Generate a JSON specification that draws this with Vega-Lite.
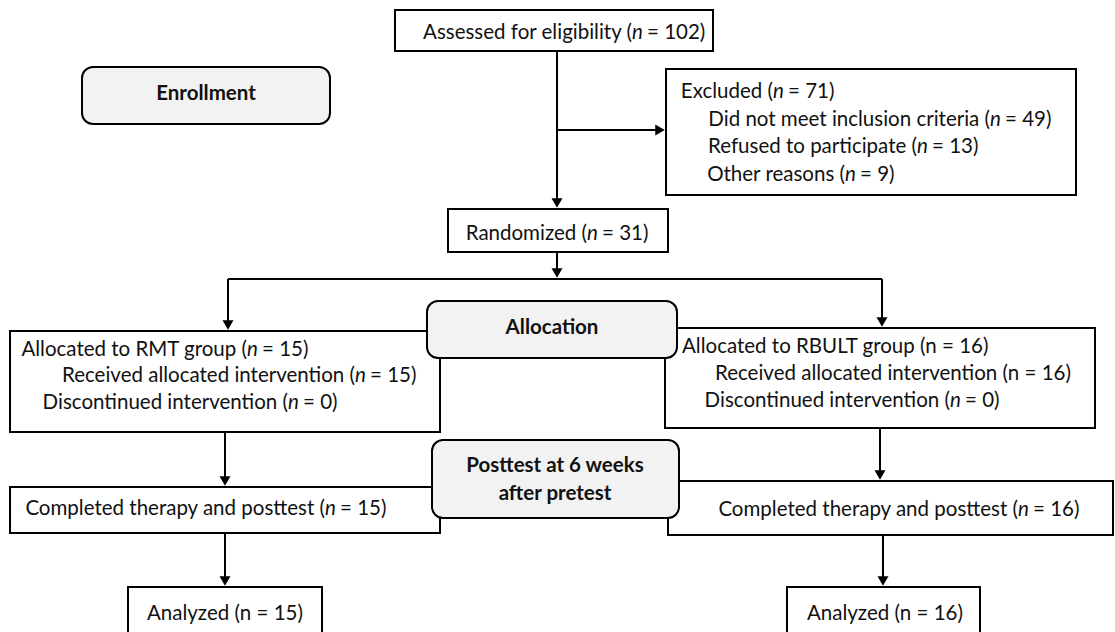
{
  "$schema": "https://vega.github.io/schema/vega-lite/v6.json",
  "width": 1115,
  "height": 632,
  "padding": 0,
  "autosize": "none",
  "background": "white",
  "config": {"view": {"stroke": null}},
  "datasets": {
    "boxes": [
      {"x": 395, "x2": 713, "y": 10, "y2": 51, "kind": "plain"},
      {"x": 666, "x2": 1076, "y": 69, "y2": 195, "kind": "plain"},
      {"x": 448, "x2": 668, "y": 209, "y2": 252, "kind": "plain"},
      {"x": 10, "x2": 440, "y": 331, "y2": 432, "kind": "plain"},
      {"x": 665, "x2": 1095, "y": 328, "y2": 428, "kind": "plain"},
      {"x": 10, "x2": 440, "y": 487, "y2": 533, "kind": "plain"},
      {"x": 668, "x2": 1113, "y": 481, "y2": 535, "kind": "plain"},
      {"x": 128, "x2": 322, "y": 587, "y2": 645, "kind": "plain"},
      {"x": 787, "x2": 980, "y": 587, "y2": 645, "kind": "plain"},
      {"x": 82, "x2": 330, "y": 67, "y2": 124, "kind": "round"},
      {"x": 427, "x2": 677, "y": 301, "y2": 358, "kind": "round"},
      {"x": 432, "x2": 679, "y": 440, "y2": 518, "kind": "round"}
    ],
    "lines": [
      {"x": 557, "y": 51, "x2": 557, "y2": 204},
      {"x": 557, "y": 130, "x2": 661, "y2": 130},
      {"x": 557, "y": 252, "x2": 557, "y2": 274},
      {"x": 228, "y": 279, "x2": 882, "y2": 279},
      {"x": 228, "y": 279, "x2": 228, "y2": 326},
      {"x": 882, "y": 279, "x2": 882, "y2": 323},
      {"x": 225, "y": 432, "x2": 225, "y2": 482},
      {"x": 880, "y": 428, "x2": 880, "y2": 476},
      {"x": 225, "y": 533, "x2": 225, "y2": 582},
      {"x": 883, "y": 535, "x2": 883, "y2": 582}
    ],
    "heads": [
      {"x": 557, "y": 203, "dir": "down"},
      {"x": 660, "y": 130, "dir": "right"},
      {"x": 557, "y": 273, "dir": "down"},
      {"x": 228, "y": 325, "dir": "down"},
      {"x": 882, "y": 322, "dir": "down"},
      {"x": 225, "y": 481, "dir": "down"},
      {"x": 880, "y": 475, "dir": "down"},
      {"x": 225, "y": 581, "dir": "down"},
      {"x": 883, "y": 581, "dir": "down"}
    ],
    "texts": [
      {"role": "head", "x": 206, "y": 100, "t": "Enrollment"},
      {"role": "pre", "x": 632, "y": 39, "t": "Assessed for eligibility ("},
      {"role": "ital", "x": 632, "y": 39, "t": "n"},
      {"role": "plain", "x": 647, "y": 39, "t": "\u00a0= 102)"},
      {"role": "pre", "x": 773, "y": 98, "t": "Excluded ("},
      {"role": "ital", "x": 773, "y": 98, "t": "n"},
      {"role": "plain", "x": 788, "y": 98, "t": "\u00a0= 71)"},
      {"role": "pre", "x": 990, "y": 126, "t": "Did not meet inclusion criteria ("},
      {"role": "ital", "x": 990, "y": 126, "t": "n"},
      {"role": "plain", "x": 1005, "y": 126, "t": "\u00a0= 49)"},
      {"role": "pre", "x": 917, "y": 153, "t": "Refused to participate ("},
      {"role": "ital", "x": 917, "y": 153, "t": "n"},
      {"role": "plain", "x": 932, "y": 153, "t": "\u00a0= 13)"},
      {"role": "pre", "x": 845, "y": 181, "t": "Other reasons ("},
      {"role": "ital", "x": 845, "y": 181, "t": "n"},
      {"role": "plain", "x": 860, "y": 181, "t": "\u00a0= 9)"},
      {"role": "pre", "x": 587, "y": 240, "t": "Randomized ("},
      {"role": "ital", "x": 587, "y": 240, "t": "n"},
      {"role": "plain", "x": 602, "y": 240, "t": "\u00a0= 31)"},
      {"role": "head", "x": 552, "y": 334, "t": "Allocation"},
      {"role": "pre", "x": 247, "y": 356, "t": "Allocated to RMT group ("},
      {"role": "ital", "x": 247, "y": 356, "t": "n"},
      {"role": "plain", "x": 262, "y": 356, "t": "\u00a0= 15)"},
      {"role": "pre", "x": 355, "y": 382, "t": "Received allocated intervention ("},
      {"role": "ital", "x": 355, "y": 382, "t": "n"},
      {"role": "plain", "x": 370, "y": 382, "t": "\u00a0= 15)"},
      {"role": "pre", "x": 288, "y": 409, "t": "Discontinued intervention ("},
      {"role": "ital", "x": 288, "y": 409, "t": "n"},
      {"role": "plain", "x": 303, "y": 409, "t": "\u00a0= 0)"},
      {"role": "plain", "x": 682, "y": 353, "t": "Allocated to RBULT group (n = 16)"},
      {"role": "plain", "x": 715, "y": 380, "t": "Received allocated intervention (n = 16)"},
      {"role": "pre", "x": 950, "y": 407, "t": "Discontinued intervention ("},
      {"role": "ital", "x": 950, "y": 407, "t": "n"},
      {"role": "plain", "x": 965, "y": 407, "t": "\u00a0= 0)"},
      {"role": "head", "x": 555, "y": 472, "t": "Posttest at 6 weeks"},
      {"role": "head", "x": 555, "y": 500, "t": "after pretest"},
      {"role": "pre", "x": 325, "y": 515, "t": "Completed therapy and posttest ("},
      {"role": "ital", "x": 325, "y": 515, "t": "n"},
      {"role": "plain", "x": 340, "y": 515, "t": "\u00a0= 15)"},
      {"role": "pre", "x": 1018, "y": 516, "t": "Completed therapy and posttest ("},
      {"role": "ital", "x": 1018, "y": 516, "t": "n"},
      {"role": "plain", "x": 1033, "y": 516, "t": "\u00a0= 16)"},
      {"role": "plain", "x": 147, "y": 620, "t": "Analyzed (n = 15)"},
      {"role": "plain", "x": 807, "y": 620, "t": "Analyzed (n = 16)"}
    ]
  },
  "layer": [
    {
      "data": {"name": "boxes"},
      "transform": [{"filter": "datum.kind === 'plain'"}],
      "mark": {"type": "rect", "fill": "white", "stroke": "black", "strokeWidth": 2, "clip": true},
      "encoding": {
        "x": {"field": "x", "type": "quantitative", "scale": {"domain": [0, 1115], "nice": false, "zero": false}, "axis": null},
        "x2": {"field": "x2"},
        "y": {"field": "y", "type": "quantitative", "scale": {"domain": [0, 632], "reverse": true, "nice": false, "zero": false}, "axis": null},
        "y2": {"field": "y2"}
      }
    },
    {
      "data": {"name": "boxes"},
      "transform": [{"filter": "datum.kind === 'round'"}],
      "mark": {"type": "rect", "fill": "#f2f2f2", "stroke": "black", "strokeWidth": 2, "cornerRadius": 11},
      "encoding": {
        "x": {"field": "x", "type": "quantitative", "scale": {"domain": [0, 1115], "nice": false, "zero": false}, "axis": null},
        "x2": {"field": "x2"},
        "y": {"field": "y", "type": "quantitative", "scale": {"domain": [0, 632], "reverse": true, "nice": false, "zero": false}, "axis": null},
        "y2": {"field": "y2"}
      }
    },
    {
      "data": {"name": "lines"},
      "mark": {"type": "rule", "stroke": "black", "strokeWidth": 2},
      "encoding": {
        "x": {"field": "x", "type": "quantitative", "scale": {"domain": [0, 1115], "nice": false, "zero": false}, "axis": null},
        "x2": {"field": "x2"},
        "y": {"field": "y", "type": "quantitative", "scale": {"domain": [0, 632], "reverse": true, "nice": false, "zero": false}, "axis": null},
        "y2": {"field": "y2"}
      }
    },
    {
      "data": {"name": "heads"},
      "mark": {"type": "point", "filled": true, "fill": "black", "opacity": 1, "size": 120, "strokeWidth": 0},
      "encoding": {
        "x": {"field": "x", "type": "quantitative", "scale": {"domain": [0, 1115], "nice": false, "zero": false}, "axis": null},
        "y": {"field": "y", "type": "quantitative", "scale": {"domain": [0, 632], "reverse": true, "nice": false, "zero": false}, "axis": null},
        "shape": {"field": "dir", "type": "nominal", "scale": {"domain": ["down", "right"], "range": ["triangle-down", "triangle-right"]}, "legend": null}
      }
    },
    {
      "data": {"name": "texts"},
      "transform": [{"filter": "datum.role === 'pre'"}],
      "mark": {"type": "text", "align": "right", "baseline": "alphabetic", "font": "Lato", "fontSize": 20.5, "color": "#111111"},
      "encoding": {
        "x": {"field": "x", "type": "quantitative", "scale": {"domain": [0, 1115], "nice": false, "zero": false}, "axis": null},
        "y": {"field": "y", "type": "quantitative", "scale": {"domain": [0, 632], "reverse": true, "nice": false, "zero": false}, "axis": null},
        "text": {"field": "t"}
      }
    },
    {
      "data": {"name": "texts"},
      "transform": [{"filter": "datum.role === 'ital'"}],
      "mark": {"type": "text", "align": "left", "baseline": "alphabetic", "font": "Lato", "fontSize": 20.5, "fontStyle": "italic", "color": "#111111"},
      "encoding": {
        "x": {"field": "x", "type": "quantitative", "scale": {"domain": [0, 1115], "nice": false, "zero": false}, "axis": null},
        "y": {"field": "y", "type": "quantitative", "scale": {"domain": [0, 632], "reverse": true, "nice": false, "zero": false}, "axis": null},
        "text": {"field": "t"}
      }
    },
    {
      "data": {"name": "texts"},
      "transform": [{"filter": "datum.role === 'plain'"}],
      "mark": {"type": "text", "align": "left", "baseline": "alphabetic", "font": "Lato", "fontSize": 20.5, "color": "#111111"},
      "encoding": {
        "x": {"field": "x", "type": "quantitative", "scale": {"domain": [0, 1115], "nice": false, "zero": false}, "axis": null},
        "y": {"field": "y", "type": "quantitative", "scale": {"domain": [0, 632], "reverse": true, "nice": false, "zero": false}, "axis": null},
        "text": {"field": "t"}
      }
    },
    {
      "data": {"name": "texts"},
      "transform": [{"filter": "datum.role === 'head'"}],
      "mark": {"type": "text", "align": "center", "baseline": "alphabetic", "font": "Lato", "fontSize": 20.5, "fontWeight": "bold", "color": "#111111"},
      "encoding": {
        "x": {"field": "x", "type": "quantitative", "scale": {"domain": [0, 1115], "nice": false, "zero": false}, "axis": null},
        "y": {"field": "y", "type": "quantitative", "scale": {"domain": [0, 632], "reverse": true, "nice": false, "zero": false}, "axis": null},
        "text": {"field": "t"}
      }
    }
  ]
}
